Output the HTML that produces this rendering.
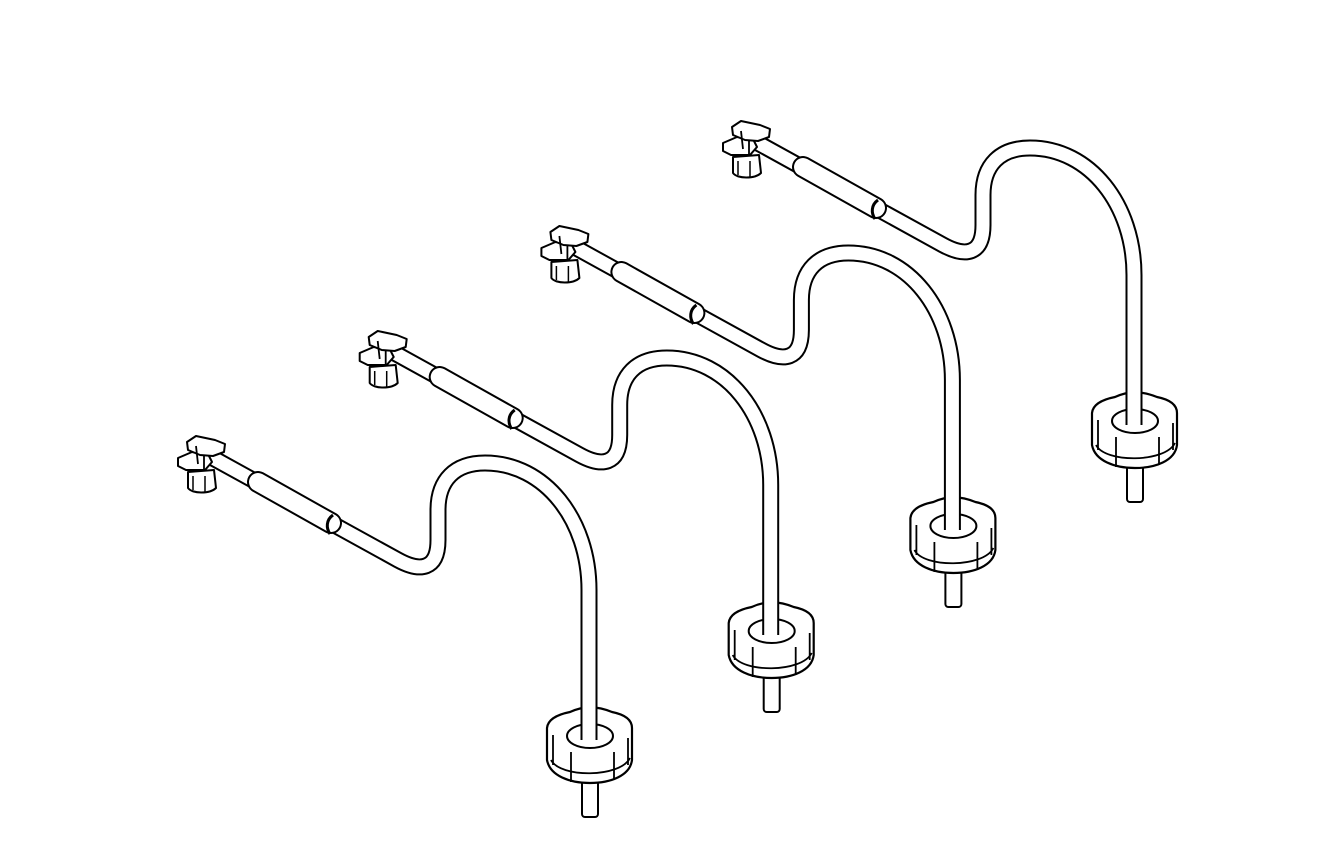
<!DOCTYPE html>
<html><head><meta charset="utf-8"><style>
html,body{margin:0;padding:0;background:#fff;}
svg{display:block;}
</style></head><body>
<svg width="1339" height="858" viewBox="0 0 1339 858" xmlns="http://www.w3.org/2000/svg">
<defs>
<g id="w" fill="none" stroke-linecap="butt" stroke-linejoin="round">
  <rect x="582" y="770" width="16" height="47" rx="3" fill="#fff" stroke="#000" stroke-width="2"/>
  <path d="M547,728 C548,718 560,714 570,712 C585,705 600,707 612,712 C622,714 632,718 632,728 L632,760 C630,776 610,783 590,783 C570,783 550,776 547,760 Z" fill="#fff" stroke="#000" stroke-width="2.2"/>
  <path d="M553,735 L553,765 M571,752 L571,782 M614,752 L614,780 M628,738 L628,765" stroke="#000" stroke-width="1.8"/>
  <path d="M551,760 C560,778 620,778 630,758" stroke="#000" stroke-width="1.8"/>
  <ellipse cx="590" cy="736" rx="23" ry="12" fill="#fff" stroke="#000" stroke-width="2"/>
  <path d="M202,452 L398,560 C420,572 438,570 438,540 L438,510 C438,480 455,463 485,463 C545,463 589,520 589,590 L589,740" stroke="#000" stroke-width="17"/>
  <path d="M202,452 L398,560 C420,572 438,570 438,540 L438,510 C438,480 455,463 485,463 C545,463 589,520 589,590 L589,741" stroke="#fff" stroke-width="13"/>
  <path d="M258,482 L331,523" stroke="#000" stroke-width="22" stroke-linecap="round"/>
  <path d="M258,482 L331,523" stroke="#fff" stroke-width="18" stroke-linecap="round"/>
  <path d="M333,515 C326,520 326,528 330,534" stroke="#000" stroke-width="3"/>
  <path d="M188,472 L214,470 L216,488 C210,494 192,494 188,488 Z" fill="#fff" stroke="#000" stroke-width="2"/>
  <path d="M193,476 L193,490 M205,476 L205,492" stroke="#000" stroke-width="1.5"/>
  <path d="M178,458 L192,452 L208,454 L212,462 L205,470 L186,470 L178,466 Z" fill="#fff" stroke="#000" stroke-width="2"/>
  <path d="M187,442 L196,436 L215,440 L225,444 L224,452 L213,456 L200,455 L188,450 Z" fill="#fff" stroke="#000" stroke-width="2"/>
  <path d="M196,446 L198,464 M204,455 L204,470" stroke="#000" stroke-width="1.8"/>
</g>
</defs>
<use href="#w" transform="translate(0,0)"/>
<use href="#w" transform="translate(181.7,-105)"/>
<use href="#w" transform="translate(363.4,-210)"/>
<use href="#w" transform="translate(545,-315)"/>
</svg>
</body></html>
